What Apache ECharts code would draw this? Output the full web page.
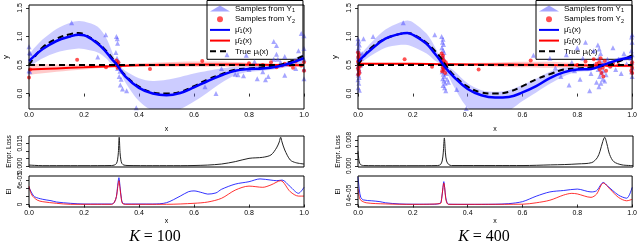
<!DOCTYPE html>
<html><head><meta charset="utf-8">
<script src="https://cdn.jsdelivr.net/npm/echarts@6/dist/echarts.min.js"></script>
<style>html,body{margin:0;padding:0;background:#fff}#c{width:640px;height:244px}</style>
</head><body><div id="c"></div>
<script>
// ---------- DATA ----------
const X_MAIN = [0,0.02,0.05,0.1,0.15,0.18,0.2,0.25,0.28,0.3,0.32,0.35,0.4,0.45,0.5,0.55,0.6,0.65,0.7,0.75,0.8,0.85,0.9,0.95,1.0];
const TRUE_MU1 = [0.50,0.64,0.81,0.96,1.04,1.06,1.04,0.89,0.75,0.64,0.50,0.32,0.12,0.02,0.0,0.03,0.13,0.25,0.34,0.42,0.44,0.46,0.49,0.56,0.67];
const TRUE_MU2 = 0.5;
const MU1_K100 = [0.57,0.66,0.78,0.92,1.00,1.03,1.02,0.87,0.73,0.61,0.50,0.30,0.10,0.0,-0.03,0.01,0.11,0.22,0.32,0.40,0.43,0.44,0.47,0.53,0.62];
const MU1_HI_K100 = [0.68,0.80,0.95,1.13,1.24,1.27,1.26,1.17,0.98,0.76,0.53,0.40,0.27,0.22,0.24,0.29,0.35,0.40,0.44,0.47,0.48,0.49,0.51,0.58,0.70];
const MU1_LO_K100 = [0.46,0.53,0.62,0.72,0.77,0.79,0.78,0.72,0.62,0.52,0.47,0.20,-0.13,-0.30,-0.32,-0.27,-0.14,0.02,0.19,0.32,0.38,0.40,0.43,0.48,0.54];
const MU1_K400 = [0.56,0.65,0.78,0.96,1.04,1.06,1.03,0.87,0.70,0.58,0.45,0.29,0.08,-0.03,-0.07,-0.06,0.02,0.13,0.27,0.37,0.42,0.43,0.51,0.59,0.64];
const MU1_HI_K400 = [0.60,0.74,0.90,1.12,1.24,1.28,1.25,1.05,0.82,0.63,0.50,0.40,0.18,0.06,0.03,0.06,0.15,0.26,0.38,0.45,0.47,0.46,0.53,0.63,0.68];
const MU1_LO_K400 = [0.52,0.57,0.67,0.80,0.85,0.85,0.82,0.70,0.58,0.52,0.40,0.12,-0.25,-0.36,-0.38,-0.30,-0.13,0.02,0.17,0.30,0.38,0.40,0.49,0.55,0.60];

const X_RED = [0,0.1,0.2,0.3,0.4,0.5,0.6,0.7,0.8,0.9,1.0];
const MU2_K100 = [0.42,0.44,0.46,0.48,0.495,0.505,0.51,0.51,0.505,0.50,0.495];
const MU2_HI_K100 = [0.52,0.51,0.51,0.50,0.53,0.55,0.56,0.56,0.54,0.52,0.53];
const MU2_LO_K100 = [0.33,0.38,0.42,0.46,0.47,0.47,0.47,0.47,0.47,0.48,0.46];
const MU2_K400 = [0.52,0.52,0.52,0.515,0.51,0.51,0.505,0.50,0.495,0.49,0.485];
const MU2_HI_K400 = [0.54,0.535,0.535,0.53,0.535,0.545,0.555,0.555,0.53,0.51,0.51];
const MU2_LO_K400 = [0.50,0.505,0.505,0.50,0.485,0.475,0.46,0.45,0.46,0.47,0.46];

const Y1_K100 = [[0,0.82],[0.004,0.70],[0.002,0.72],[0,0.40],[0.003,0.38],[0.005,0.58],
 [0.155,1.24],[0.279,1.03],[0.25,0.64],
 [0.318,1.0],[0.321,0.96],[0.322,0.88],[0.316,0.72],[0.32,0.62],[0.325,0.55],[0.322,0.44],[0.331,0.39],[0.328,0.3],[0.335,0.25],[0.332,0.15],[0.34,0.08],[0.355,0.05],[0.39,-0.25],
 [0.64,0.12],[0.68,0.0],[0.72,0.68],[0.75,0.34],[0.76,0.33],[0.79,0.67],[0.8,0.42],[0.82,0.56],[0.83,0.26],[0.85,0.38],[0.86,0.24],[0.87,0.3],[0.89,0.91],[0.9,0.84],[0.9,0.69],[0.89,0.6],[0.905,0.6],[0.915,0.55],[0.93,0.65],[0.94,0.52],[0.93,0.32],[0.98,0.75],[0.99,1.05],[1.0,1.01],[1.0,0.79],[1.0,0.6],[1.0,0.43],[1.0,0.26],[0.97,0.44],[0.78,0.31],[0.7,0.44]];
const Y2_K100 = [[0,0.28],[0.004,0.42],[0.175,0.59],[0.28,0.46],[0.318,0.58],[0.32,0.52],[0.325,0.55],[0.33,0.48],[0.322,0.45],[0.44,0.43],[0.63,0.57],[0.8,0.53],[0.85,0.5],[0.88,0.55],[0.9,0.46],[0.92,0.49],[0.93,0.52],[0.95,0.5],[0.99,0.49],[1.0,0.4],[1.0,0.55],[0.97,0.56],[0.96,0.45]];
const Y1_K400 = [[0,0.96],[0.003,0.92],[0,0.88],[0.005,0.85],[0.002,0.8],[0,0.76],[0.006,0.72],[0.003,0.68],[0,0.64],[0.004,0.6],[0.001,0.56],[0.006,0.52],[0,0.48],[0.003,0.44],[0.005,0.4],[0,0.36],[0.002,0.32],[0.004,0.28],[0,0.24],[0.003,0.18],[0.001,0.1],[0.005,0.06],[0.01,0.5],[0.012,0.62],[0.015,0.7],
 [0.02,0.96],[0.055,1.0],[0.165,1.24],[0.28,1.03],
 [0.305,1.0],[0.31,0.95],[0.308,0.9],[0.312,0.86],[0.306,0.8],[0.31,0.76],[0.314,0.72],[0.308,0.66],[0.312,0.62],[0.306,0.58],[0.31,0.54],[0.315,0.5],[0.309,0.46],[0.313,0.42],[0.307,0.38],[0.311,0.34],[0.315,0.3],[0.309,0.26],[0.313,0.22],[0.318,0.18],[0.31,0.14],[0.316,0.1],[0.322,0.35],[0.325,0.25],[0.33,0.2],
 [0.32,0.05],[0.36,0.07],[0.395,-0.26],[0.64,0.67],[0.7,0.62],[0.72,0.45],[0.74,0.3],[0.76,0.68],[0.77,0.15],[0.78,0.55],[0.79,0.4],[0.8,0.8],[0.81,0.25],[0.82,0.62],[0.83,0.9],[0.845,0.05],[0.85,0.35],[0.86,0.5],[0.86,0.75],[0.87,0.2],
 [0.875,0.85],[0.88,0.78],[0.885,0.7],[0.878,0.62],[0.89,0.55],[0.883,0.48],[0.876,0.42],[0.888,0.36],[0.881,0.3],[0.893,0.25],[0.886,0.18],[0.879,0.12],[0.9,0.22],[0.895,0.4],[0.905,0.33],[0.91,0.6],[0.92,0.5],[0.93,0.8],[0.94,0.42],[0.95,0.6],[0.96,0.35],[0.97,0.7],[0.98,0.52],
 [1.0,1.03],[0.998,0.99],[1.0,0.9],[0.997,0.75],[1.0,0.68],[0.999,0.55],[1.0,0.45],[0.998,0.38],[1.0,0.3],[0.995,0.62]];
const Y2_K400 = [[0,0.72],[0.003,0.68],[0.001,0.64],[0.005,0.6],[0,0.56],[0.004,0.53],[0.002,0.5],[0.006,0.47],[0,0.44],[0.003,0.4],[0.005,0.36],[0.001,0.33],[0.008,0.58],[0.01,0.5],
 [0.17,0.6],[0.27,0.47],
 [0.305,0.7],[0.31,0.66],[0.308,0.62],[0.313,0.58],[0.306,0.55],[0.311,0.52],[0.315,0.49],[0.309,0.46],[0.313,0.42],[0.307,0.39],[0.318,0.36],[0.32,0.55],[0.322,0.5],
 [0.44,0.42],[0.63,0.58],[0.8,0.5],[0.83,0.56],[0.85,0.45],[0.86,0.6],
 [0.87,0.52],[0.875,0.48],[0.88,0.55],[0.882,0.42],[0.885,0.62],[0.888,0.36],[0.89,0.5],[0.893,0.45],[0.895,0.3],[0.9,0.57],[0.905,0.4],[0.91,0.5],[0.92,0.47],[0.93,0.53],[0.95,0.5],
 [1.0,0.55],[0.998,0.5],[1.0,0.45],[0.997,0.4],[1.0,0.36]];

const LOSS_K100 = [[0,0.0005],[0.02,0.0003],[0.05,0.0001],[0.1,0.0001],[0.2,0.0001],[0.3,0.0002],[0.31,0.0005],[0.318,0.0015],[0.322,0.004],[0.325,0.009],[0.328,0.0192],[0.331,0.009],[0.334,0.004],[0.338,0.0015],[0.345,0.0005],[0.36,0.0002],[0.45,0.0001],[0.55,0.0001],[0.6,0.0002],[0.65,0.0005],[0.7,0.0012],[0.75,0.0028],[0.8,0.005],[0.85,0.0057],[0.88,0.0073],[0.9,0.012],[0.91,0.016],[0.915,0.0192],[0.92,0.016],[0.93,0.0106],[0.95,0.0039],[0.97,0.0021],[1.0,0.0012]];
const LOSS_K400 = [[0,0.0045],[0.003,0.002],[0.008,0.0005],[0.02,0.0001],[0.1,0.00005],[0.2,0.00005],[0.29,0.0001],[0.3,0.0004],[0.306,0.0015],[0.31,0.004],[0.314,0.0086],[0.318,0.004],[0.322,0.0015],[0.33,0.0004],[0.34,0.0001],[0.5,0.0001],[0.6,0.0001],[0.7,0.0003],[0.75,0.0004],[0.8,0.0006],[0.85,0.001],[0.87,0.0025],[0.88,0.0045],[0.89,0.0075],[0.897,0.0088],[0.905,0.0068],[0.915,0.0035],[0.93,0.0013],[0.96,0.0003],[1.0,0.0001]];

// EI values in units of 1e-5
const EI_BLUE_K100 = [[0,4.3],[0.01,2.9],[0.02,1.95],[0.05,1.3],[0.08,0.95],[0.1,0.62],[0.15,0.3],[0.2,0.12],[0.3,0.12],[0.31,0.5],[0.318,2],[0.322,4.5],[0.327,6.7],[0.331,4.5],[0.336,1.5],[0.34,0.38],[0.35,0.12],[0.45,0.12],[0.5,0.45],[0.55,2.1],[0.58,3.2],[0.6,3.4],[0.63,2.95],[0.65,2.6],[0.68,2.9],[0.7,3.8],[0.75,5.1],[0.8,5.7],[0.84,6.4],[0.88,6.1],[0.9,5.95],[0.92,6.1],[0.95,4.45],[0.98,2.8],[1.0,4.3]];
const EI_RED_K100 = [[0,4.6],[0.01,2.4],[0.03,1.1],[0.05,0.7],[0.1,0.3],[0.15,0.05],[0.3,0.05],[0.31,0.5],[0.318,2],[0.322,4],[0.327,5.95],[0.331,4],[0.336,1.25],[0.34,0.25],[0.35,0.05],[0.5,0.05],[0.6,0.3],[0.65,0.62],[0.7,1.55],[0.75,3.6],[0.8,4.6],[0.85,4.3],[0.88,4.9],[0.915,5.95],[0.95,3.2],[0.98,2.1],[1.0,2.1]];
const EI_BLUE_K400 = [[0,9.7],[0.005,5.1],[0.01,2.5],[0.02,1.6],[0.05,1.3],[0.08,1.0],[0.1,0.6],[0.15,0.2],[0.2,0.1],[0.28,0.1],[0.3,0.5],[0.305,2],[0.31,6],[0.313,8.0],[0.316,6],[0.32,2.5],[0.325,0.6],[0.33,0.1],[0.4,0.05],[0.5,0.1],[0.55,0.3],[0.6,1.0],[0.65,2.9],[0.7,4.4],[0.75,4.9],[0.8,5.4],[0.85,4.4],[0.87,4.8],[0.895,7.7],[0.91,6.5],[0.95,3.3],[0.98,2.2],[1.0,6.0]];
const EI_RED_K400 = [[0,5.5],[0.005,2.5],[0.01,1.5],[0.03,0.6],[0.1,0.2],[0.2,0.05],[0.3,0.3],[0.305,2],[0.31,6],[0.313,7.5],[0.316,6],[0.32,2],[0.325,0.4],[0.33,0.05],[0.6,0.1],[0.65,0.6],[0.7,1.5],[0.75,3.3],[0.78,3.9],[0.8,3.7],[0.85,2.5],[0.87,3.6],[0.895,7.5],[0.92,5.3],[0.95,2.5],[0.98,1.3],[1.0,1.8]];

const Y_MAIN_TICKS = [0,0.5,1.0,1.5];
const LOSS_TICKS_K100 = [0,0.005,0.01,0.015], LOSS_LABELS_K100 = [0,0.015];
const LOSS_TICKS_K400 = [0,0.002,0.004,0.006,0.008], LOSS_LABELS_K400 = [0,0.008];
const EI_TICKS_K100 = [0,2e-5,4e-5,6e-5], EI_LABELS_K100 = [0,6e-5];
const EI_TICKS_K400 = [0,2e-5,4e-5,6e-5,8e-5], EI_LABELS_K400 = [0,4e-5];
const CAPTIONS = ['100','400'];

// ---------- BUILD ----------
const pairs = (xs, ys) => xs.map((x,i)=>[x, ys[i]]);
const scaleE5 = arr => arr.map(d=>[d[0], d[1]*1e-5]);
const FONT = 'Liberation Sans';
const panels = [
  {left:29, mu1:MU1_K100, hi1:MU1_HI_K100, lo1:MU1_LO_K100, mu2:MU2_K100, hi2:MU2_HI_K100, lo2:MU2_LO_K100, y1:Y1_K100, y2:Y2_K100,
   loss:LOSS_K100, lossT:LOSS_TICKS_K100, lossL:LOSS_LABELS_K100, lossMin:-0.0008, lossMax:0.0200,
   eiB:EI_BLUE_K100, eiR:EI_RED_K100, eiT:EI_TICKS_K100, eiL:EI_LABELS_K100, eiMin:-0.625e-5, eiMax:7.125e-5, cap:155, legLeft:207},
  {left:358, mu1:MU1_K400, hi1:MU1_HI_K400, lo1:MU1_LO_K400, mu2:MU2_K400, hi2:MU2_HI_K400, lo2:MU2_LO_K400, y1:Y1_K400, y2:Y2_K400,
   loss:LOSS_K400, lossT:LOSS_TICKS_K400, lossL:LOSS_LABELS_K400, lossMin:-0.00035, lossMax:0.0092,
   eiB:EI_BLUE_K400, eiR:EI_RED_K400, eiT:EI_TICKS_K400, eiL:EI_LABELS_K400, eiMin:-0.875e-5, eiMax:9.975e-5, cap:484, legLeft:536}
];

const grid=[], xAxis=[], yAxis=[], series=[], legend=[], graphic=[];
const fmtE = v => { if (v===0) return '0'; let s=v.toExponential(0); return s.replace(/e([+-])(\d)$/,'e$10$2'); };
const axisBase = {axisLine:{show:false}, splitLine:{show:false},
  axisTick:{show:true, length:3, lineStyle:{color:'#000', width:0.8}},
  axisLabel:{color:'#000', fontSize:7, fontFamily:FONT}};

function bandSeries(gi, xs, lo, hi, color) {
  return {type:'custom', xAxisIndex:gi, yAxisIndex:gi, clip:true, silent:true, z:1, data:[[0,0]],
    renderItem:(params, api) => {
      const up = xs.map((x,i)=>api.coord([x, hi[i]]));
      const dn = xs.map((x,i)=>api.coord([x, lo[i]])).reverse();
      const pts = [up[0], ...up, up[up.length-1], dn[0], ...dn, dn[dn.length-1]];
      return {type:'polygon', shape:{points:pts, smooth:0.3}, style:{fill:color}};
    }};
}

panels.forEach((P, p) => {
  const tops = [1, 136, 176], hs = [108, 31, 31];
  for (let k=0;k<3;k++) {
    grid.push({left:P.left, top:tops[k], width:275, height:hs[k], show:true, borderColor:'#000', borderWidth:1, backgroundColor:'rgba(0,0,0,0)', z:5});
    const gi = p*3+k;
    xAxis.push(Object.assign({}, axisBase, {type:'value', gridIndex:gi, min:0, max:1, interval:0.2,
      axisTick:Object.assign({}, axisBase.axisTick, {show:k!==1}),
      axisLabel:Object.assign({}, axisBase.axisLabel, {show:k!==1, margin:3, formatter:v=>v.toFixed(1)}),
      name: k===1 ? '' : 'x', nameLocation:'middle', nameGap: k===0?17:10,
      nameTextStyle:{fontSize:7, fontFamily:FONT, color:'#000'}}));
  }
  yAxis.push(Object.assign({}, axisBase, {type:'value', gridIndex:p*3, min:-0.27, max:1.55,
    axisTick:Object.assign({}, axisBase.axisTick, {customValues:Y_MAIN_TICKS}),
    axisLabel:Object.assign({}, axisBase.axisLabel, {customValues:Y_MAIN_TICKS, rotate:90, margin:5, formatter:v=>v.toFixed(1)}),
    name:'y', nameLocation:'middle', nameGap:19, nameRotate:90, nameTextStyle:{fontSize:8, fontFamily:FONT, color:'#000'}}));
  yAxis.push(Object.assign({}, axisBase, {type:'value', gridIndex:p*3+1, min:P.lossMin, max:P.lossMax,
    axisTick:Object.assign({}, axisBase.axisTick, {customValues:P.lossT}),
    axisLabel:Object.assign({}, axisBase.axisLabel, {customValues:P.lossL, rotate:90, margin:5, fontSize:6.5, formatter:v=>v.toFixed(3)}),
    name:'Empr. Loss', nameLocation:'middle', nameGap:16, nameRotate:90, nameTextStyle:{fontSize:6.5, fontFamily:FONT, color:'#000'}}));
  yAxis.push(Object.assign({}, axisBase, {type:'value', gridIndex:p*3+2, min:P.eiMin, max:P.eiMax,
    axisTick:Object.assign({}, axisBase.axisTick, {customValues:P.eiT}),
    axisLabel:Object.assign({}, axisBase.axisLabel, {customValues:P.eiL, rotate:90, margin:5, fontSize:6.5, formatter:fmtE}),
    name:'EI', nameLocation:'middle', nameGap:16, nameRotate:90, nameTextStyle:{fontSize:6.5, fontFamily:FONT, color:'#000'}}));

  const gi = p*3;
  series.push(bandSeries(gi, X_MAIN, P.lo1, P.hi1, 'rgba(110,110,255,0.35)'));
  series.push(bandSeries(gi, X_RED, P.lo2, P.hi2, 'rgba(255,80,80,0.3)'));
  series.push({type:'scatter', name:'Y1', xAxisIndex:gi, yAxisIndex:gi, data:P.y1, symbol:'triangle', symbolSize:5, itemStyle:{color:'rgba(70,70,255,0.6)'}, z:2, silent:true});
  series.push({type:'scatter', name:'Y2', xAxisIndex:gi, yAxisIndex:gi, data:P.y2, symbol:'circle', symbolSize:4, itemStyle:{color:'rgba(255,0,0,0.85)'}, z:2, silent:true});
  series.push({type:'line', name:'mu2', xAxisIndex:gi, yAxisIndex:gi, data:pairs(X_RED, P.mu2), smooth:0.4, symbol:'none', lineStyle:{color:'#ff0000', width:2}, z:3});
  series.push({type:'line', name:'true', xAxisIndex:gi, yAxisIndex:gi, data:[[0,TRUE_MU2],[1,TRUE_MU2]], symbol:'none', lineStyle:{color:'#000', width:2, type:[6,4]}, z:3});
  series.push({type:'line', name:'true', xAxisIndex:gi, yAxisIndex:gi, data:pairs(X_MAIN, TRUE_MU1), smooth:0.4, symbol:'none', lineStyle:{color:'#000', width:2, type:[6,4]}, z:4});
  series.push({type:'line', name:'mu1', xAxisIndex:gi, yAxisIndex:gi, data:pairs(X_MAIN, P.mu1), smooth:0.4, symbol:'none', lineStyle:{color:'#0000ff', width:2.5}, z:4});
  series.push({type:'line', name:'loss', xAxisIndex:gi+1, yAxisIndex:gi+1, data:P.loss, smooth:0.3, symbol:'none', lineStyle:{color:'#222', width:1}});
  series.push({type:'line', name:'eiB', xAxisIndex:gi+2, yAxisIndex:gi+2, data:scaleE5(P.eiB), smooth:0.3, symbol:'none', lineStyle:{color:'rgba(0,0,255,0.8)', width:1}});
  series.push({type:'line', name:'eiR', xAxisIndex:gi+2, yAxisIndex:gi+2, data:scaleE5(P.eiR), smooth:0.3, symbol:'none', lineStyle:{color:'rgba(255,0,0,0.8)', width:1}});

  const hide = {itemStyle:{opacity:0}};
  legend.push({left:P.legLeft, top:0.5, orient:'vertical',
    data:[{name:'Y1'},{name:'Y2'},Object.assign({name:'mu1'},hide),Object.assign({name:'mu2'},hide),Object.assign({name:'true'},hide)],
    itemWidth:20, itemHeight:6, itemGap:0.7, padding:[3,8,3,2], borderColor:'#000', borderWidth:1, backgroundColor:'#fff',
    selectedMode:false, z:1,
    formatter: n => ({Y1:'Samples from Y{s|1}', Y2:'Samples from Y{s|2}', mu1:'μ̂{s|1}(x)', mu2:'μ̂{s|2}(x)', true:'True μ{s|i}(x)'})[n],
    textStyle:{fontSize:8, fontFamily:FONT, color:'#000', lineHeight:8, rich:{s:{fontSize:5.5, fontFamily:FONT, lineHeight:4, padding:[4,0,0,0]}}}});

  graphic.push({type:'text', x:P.cap, y:237, style:{text:'{k|K} = '+CAPTIONS[p], fontSize:16, fontFamily:'Liberation Serif', fill:'#000', textAlign:'center', textVerticalAlign:'middle',
    rich:{k:{fontStyle:'italic', fontSize:16, fontFamily:'Liberation Serif'}}}});
});

const chart = echarts.init(document.getElementById('c'), null, {renderer:'canvas'});
chart.setOption({animation:false, backgroundColor:'#fff', grid, xAxis, yAxis, series, legend, graphic});
</script></body></html>
